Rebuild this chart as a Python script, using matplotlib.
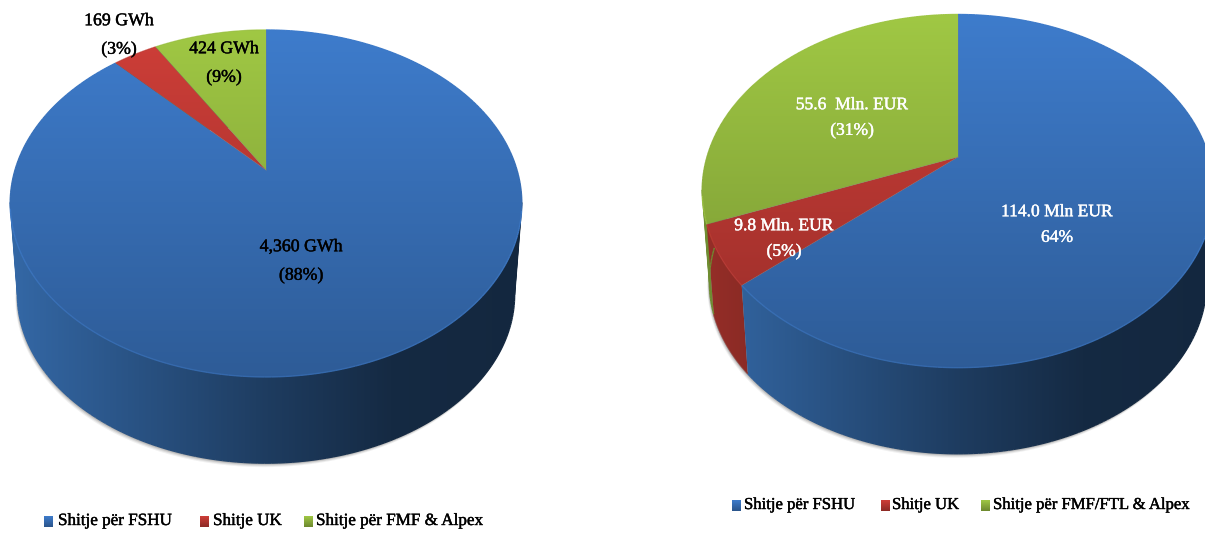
import numpy as np
import matplotlib
matplotlib.use("Agg")
import matplotlib.pyplot as plt
import matplotlib.patheffects as pe
from matplotlib.collections import LineCollection
from matplotlib.patches import Polygon
from matplotlib.path import Path

plt.rcParams["font.family"] = ["Liberation Serif", "DejaVu Serif"]

# values, order is clockwise from 12 o'clock
gwh_values = [4360, 169, 424]
eur_values = [114.0, 9.8, 55.6]

gwh_labels = ["4,360 GWh\n(88%)", "169 GWh\n(3%)", "424 GWh\n(9%)"]
eur_labels = ["114.0 Mln EUR\n64%", "9.8 Mln. EUR\n(5%)", "55.6  Mln. EUR\n(31%)"]

gwh_legend = ["Shitje për FSHU", "Shitje UK", "Shitje për FMF & Alpex"]
eur_legend = ["Shitje për FSHU", "Shitje UK", "Shitje për FMF/FTL & Alpex"]

top_colors = [(62, 124, 204), (206, 62, 56), (160, 200, 68)]
side_colors = [(52, 104, 166), (150, 46, 40), (112, 142, 50)]

# perspective of the pie: tilt of the disc, extrusion shrink and drop
TILT = -0.193
SHRINK = 0.972
DROP = 92
SIDE_STOPS = ([0, 0.5, 0.75, 1], [1.0, 0.58, 0.4, 0.38])


def disc_xy(theta, hub, a, b):
    # theta is clockwise from the top, disc is projected to the screen
    u, v = np.sin(theta), np.cos(theta)
    den = 1 - TILT * v
    return hub[0] + a * u / den, hub[1] - b * v / den


def foot_xy(theta, hub, a, b):
    x, y = disc_xy(theta, hub, a, b)
    return hub[0] + (x - hub[0]) * SHRINK, hub[1] + (y - hub[1]) * SHRINK + DROP


def gradient(ax, color, extent, stops, horizontal, clip, z):
    t = np.linspace(0, 1, 256)
    f = np.interp(t, stops[0], stops[1])
    rgb = np.outer(f, np.array(color) / 255.0)
    img = rgb[np.newaxis, :, :] if horizontal else rgb[:, np.newaxis, :]
    im = ax.imshow(img, extent=extent, aspect="auto", origin="upper", zorder=z,
                   interpolation="bilinear")
    if isinstance(clip, Path):
        im.set_clip_path(clip, ax.transData)
    else:
        im.set_clip_path(Polygon(clip, closed=True, transform=ax.transData))


def side_path(tx, ty, fx, fy):
    # one quad per arc step, all wound the same way so the union stays filled
    verts, codes = [], []
    for j in range(len(tx) - 1):
        q = np.array([[tx[j], ty[j]], [tx[j + 1], ty[j + 1]], [fx[j + 1], fy[j + 1]], [fx[j], fy[j]]])
        area = np.sum(q[:, 0] * np.roll(q[:, 1], -1) - np.roll(q[:, 0], -1) * q[:, 1])
        if area < 0:
            q = q[::-1]
        verts.extend(q.tolist() + [q[0].tolist()])
        codes.extend([Path.MOVETO, Path.LINETO, Path.LINETO, Path.LINETO, Path.CLOSEPOLY])
    return Path(verts, codes)


def draw_pie(ax, values, hub, a, b):
    fracs = np.array(values, dtype=float) / sum(values)
    edges = np.concatenate([[0], np.cumsum(fracs)]) * 2 * np.pi
    full = np.linspace(0, 2 * np.pi, 721)
    rim_x, rim_y = disc_xy(full, hub, a, b)
    foot_x, foot_y = foot_xy(full, hub, a, b)
    x0, x1 = rim_x.min(), rim_x.max()
    y0, y1 = rim_y.min(), rim_y.max()

    # soft shadow under the outer edge of the cylinder
    for off, alpha in [(4, 0.07), (3, 0.10), (2, 0.14), (1, 0.18)]:
        ax.fill(foot_x - off * 0.5, foot_y + off, color="#303030", alpha=alpha, lw=0, zorder=1)

    # sides, rear slices first
    for i in reversed(range(len(values))):
        th = np.linspace(edges[i], edges[i + 1], 240)
        tx, ty = disc_xy(th, hub, a, b)
        fx, fy = foot_xy(th, hub, a, b)
        gradient(ax, side_colors[i], (x0, x1, y1 + DROP, y0), SIDE_STOPS,
                 True, side_path(tx, ty, fx, fy), 2 + (len(values) - i) * 0.1)
        # antialiased foot edge over the hard clip edge
        f = np.interp((fx - x0) / (x1 - x0), SIDE_STOPS[0], SIDE_STOPS[1])
        cols = np.outer(f, np.array(side_colors[i]) / 255.0)
        segs = np.stack([np.column_stack([fx[:-1], fy[:-1]]), np.column_stack([fx[1:], fy[1:]])], axis=1)
        front = fy[:-1] > hub[1] + DROP
        ax.add_collection(LineCollection(segs[front], colors=cols[:-1][front], linewidths=1.0, zorder=2.6))

    # straight silhouette edges of the cylinder
    for k in [np.argmin(rim_x), np.argmax(rim_x)]:
        i = min(np.searchsorted(edges, full[k]) - 1, len(values) - 1)
        f = np.interp((rim_x[k] - x0) / (x1 - x0), SIDE_STOPS[0], SIDE_STOPS[1])
        ax.plot([rim_x[k], foot_x[k]], [rim_y[k], foot_y[k]], color=tuple(f * c / 255 for c in side_colors[i]),
                lw=1.0, zorder=2.7)

    # top face
    for i in range(len(values)):
        th = np.linspace(edges[i], edges[i + 1], 240)
        tx, ty = disc_xy(th, hub, a, b)
        pts = np.column_stack([np.r_[hub[0], tx], np.r_[hub[1], ty]])
        gradient(ax, top_colors[i], (x0, x1, y1, y0), ([0, 1], [1.0, 0.74]), False, pts, 3)
        # rim follows the face shade, a little lighter at the front, and hides the hard clip edge
        f = 1.0 - 0.26 * (ty - y0) / (y1 - y0) + 0.10 * (ty > hub[1] + 40)
        cols = np.clip(np.outer(f, np.array(top_colors[i]) / 255.0), 0, 1)
        segs = np.stack([np.column_stack([tx[:-1], ty[:-1]]), np.column_stack([tx[1:], ty[1:]])], axis=1)
        ax.add_collection(LineCollection(segs, colors=cols[:-1], linewidths=1.0, zorder=3.5))
    for e in edges[:-1]:
        ex, ey = disc_xy(e, hub, a, b)
        ax.plot([hub[0], ex], [hub[1], ey], color=(0.5, 0.5, 0.5), alpha=0.25, lw=0.7, zorder=3.5)


def draw_legend(ax, names, box_x, text_x, y, size):
    for i, name in enumerate(names):
        pts = [(box_x[i], y - 5), (box_x[i] + 9, y - 5), (box_x[i] + 9, y + 6), (box_x[i], y + 6)]
        gradient(ax, top_colors[i], (box_x[i], box_x[i] + 9, y + 6, y - 5), ([0, 1], [1.0, 0.68]), False, pts, 4)
        ax.text(text_x[i], y, name, fontsize=size, color="black", ha="left", va="center", zorder=5,
                path_effects=[pe.withStroke(linewidth=0.3, foreground="black")])


fig = plt.figure(figsize=(12.05, 5.33), dpi=100)
ax = fig.add_axes([0, 0, 1, 1])

draw_pie(ax, gwh_values, (266, 170), 251, 167)
draw_pie(ax, eur_values, (958, 157), 251, 170)

gwh_pos = [(301, 261), (119, 35), (224, 63)]
eur_pos = [(1057, 225), (784, 239), (852, 118)]

for label, pos in zip(gwh_labels, gwh_pos):
    ax.text(pos[0], pos[1], label, fontsize=12.8, color="black", ha="center", va="center",
            linespacing=1.85, zorder=6, path_effects=[pe.withStroke(linewidth=0.3, foreground="black")])
for label, pos in zip(eur_labels, eur_pos):
    ax.text(pos[0], pos[1], label, fontsize=12.6, color="white", ha="center", va="center",
            linespacing=1.8, zorder=6, path_effects=[pe.withStroke(linewidth=0.3, foreground="white")])

draw_legend(ax, gwh_legend, [44, 200, 304], [58, 213, 316], 521, 12.3)
draw_legend(ax, eur_legend, [732, 881, 981], [744, 892, 993], 505, 12.0)

ax.set_xlim(0, 1205)
ax.set_ylim(533, 0)
ax.axis("off")

fig.savefig("out.png", dpi=100)
